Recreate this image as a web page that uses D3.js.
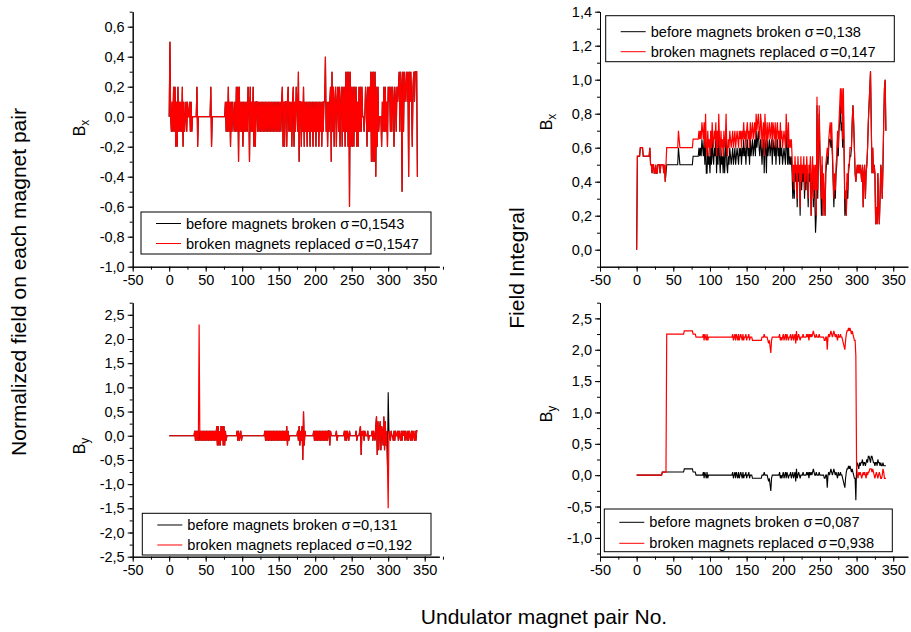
<!DOCTYPE html>
<html>
<head>
<meta charset="utf-8">
<script src="https://cdn.jsdelivr.net/npm/d3@7"></script>
<style>
body { margin: 0; background: #fff; }
svg { font-family: "Liberation Sans", Arial, sans-serif; }
</style>
</head>
<body>
<script>
// magnet pair number is the array index (0..340)

// normalized field Bx, before / after replacement
var bxFieldBefore = [
 0, 0.5, 0, -0.1, 0.1, -0.1, 0.2, -0.1, 0.2, -0.2, 0.1, -0.2, 0.2, -0.1, 0.1, -0.1, 0.1, -0.1, 0.2, -0.2,
 0.1, -0.1, 0, 0.1, -0.1, 0.1, 0, 0, 0.1, -0.1, 0.1, -0.1, 0, 0, 0, 0, 0, 0, 0.2, -0.2,
 0, 0, 0, 0, 0, 0, 0, 0, 0, 0, 0, 0, 0, 0, 0, 0, 0, 0.2, -0.2, 0,
 0, 0, 0, 0, 0, 0, 0, 0, 0, 0, 0, 0, 0, 0, 0, 0, 0, 0.1, -0.1, 0.1,
 -0.1, 0.2, -0.1, 0.1, -0.2, 0.1, -0.1, 0.1, 0, -0.1, 0.1, -0.1, 0.2, -0.1, 0.2, -0.3, 0.2, -0.1, 0.1, -0.1,
 0.1, -0.2, 0.1, -0.1, 0.1, -0.1, 0.1, -0.1, 0.2, 0.1, -0.3, 0.2, -0.1, 0.1, -0.1, 0.2, -0.2, 0.1, -0.2, 0.1,
 0.1, -0.1, 0.1, -0.1, 0.1, -0.1, 0.1, -0.1, 0.1, -0.1, 0.1, -0.1, 0.1, -0.1, 0.1, -0.1, 0.1, -0.1, 0.1, -0.1,
 0.1, -0.1, 0.1, -0.1, 0.1, -0.1, 0.1, -0.1, 0.1, -0.1, 0.1, -0.1, 0.1, -0.1, 0.1, 0.2, -0.2, 0.1, -0.2, 0.1,
 0.1, -0.2, 0.1, 0.2, -0.1, 0.1, -0.1, 0.1, -0.2, 0.1, 0.2, -0.2, 0.1, -0.1, 0.2, 0.1, -0.1, 0.3, -0.3, 0.1,
 0.1, -0.2, 0.1, -0.1, 0.2, -0.2, 0.1, -0.1, 0.1, -0.2, 0.1, -0.1, 0.1, -0.2, 0.1, -0.1, 0.1, -0.2, 0.1, -0.1,
 0.1, -0.2, 0.1, -0.1, 0.1, -0.2, 0.1, -0.1, 0.1, -0.2, 0.1, -0.1, 0.1, 0.1, 0.4, -0.1, 0.1, -0.2, 0.1, -0.1,
 0.1, 0.2, -0.3, 0.3, -0.1, 0.2, -0.2, 0.1, 0.2, -0.2, 0.1, 0.2, -0.1, 0.2, -0.2, 0.1, 0.2, -0.2, 0.2, -0.1,
 0.2, -0.2, 0.3, -0.1, 0.3, -0.2, 0.3, -0.6, 0.3, -0.2, 0.2, -0.2, 0.2, -0.2, 0.2, -0.1, 0.2, -0.2, 0.1, -0.2,
 0.2, -0.1, 0.2, -0.1, 0.2, 0, 0, -0.1, 0, 0.2, 0.1, -0.2, 0.2, -0.1, 0.2, -0.1, 0.3, -0.3, 0.3, -0.3,
 0.3, -0.3, 0.3, -0.4, 0.2, -0.2, 0.2, -0.1, 0, 0, 0, -0.2, 0.1, -0.1, 0.2, -0.1, 0.2, -0.1, 0.1, -0.2,
 0.2, 0.1, 0.2, -0.1, 0.2, -0.1, 0.2, 0.1, -0.2, 0.2, 0.1, -0.1, 0.2, 0.1, 0.2, 0.3, -0.1, 0.3, 0.2, -0.5,
 0.3, -0.1, 0.3, 0.1, 0.2, 0.3, 0.1, 0.3, -0.4, 0.3, 0.1, 0.3, 0.1, -0.2, 0.2, 0.3, 0.1, 0.3, 0.3, 0.3, -0.4
];
var bxFieldAfter = [
 0, 0.5, 0, -0.1, 0.1, -0.1, 0.2, -0.1, 0.2, -0.2, 0.1, -0.2, 0.2, -0.1, 0.1, -0.1, 0.1, -0.1, 0.2, -0.2,
 0.1, -0.1, 0, 0.1, -0.1, 0.1, 0, 0, 0.1, -0.1, 0.1, -0.1, 0, 0, 0, 0, 0, 0, 0.2, -0.2,
 0, 0, 0, 0, 0, 0, 0, 0, 0, 0, 0, 0, 0, 0, 0, 0, 0, 0.2, -0.2, 0,
 0, 0, 0, 0, 0, 0, 0, 0, 0, 0, 0, 0, 0, 0, 0, 0, 0, 0.1, -0.1, 0.1,
 -0.1, 0.2, -0.1, 0.1, -0.2, 0.1, -0.1, 0.1, 0, -0.1, 0.1, -0.1, 0.2, -0.1, 0.2, -0.3, 0.2, -0.1, 0.1, -0.1,
 0.1, -0.2, 0.1, -0.1, 0.1, -0.1, 0.1, -0.1, 0.2, 0.1, -0.3, 0.2, -0.1, 0.1, -0.1, 0.2, -0.2, 0.1, -0.2, 0.1,
 0.1, -0.1, 0.1, -0.1, 0.1, -0.1, 0.1, -0.1, 0.1, -0.1, 0.1, -0.1, 0.1, -0.1, 0.1, -0.1, 0.1, -0.1, 0.1, -0.1,
 0.1, -0.1, 0.1, -0.1, 0.1, -0.1, 0.1, -0.1, 0.1, -0.1, 0.1, -0.1, 0.1, -0.1, 0.1, 0.2, -0.2, 0.1, -0.2, 0.1,
 0.1, -0.2, 0.1, 0.2, -0.1, 0.1, -0.1, 0.1, -0.2, 0.1, 0.2, -0.2, 0.1, -0.1, 0.2, 0.1, -0.1, 0.3, -0.3, 0.1,
 0.1, -0.2, 0.1, -0.1, 0.2, -0.2, 0.1, -0.1, 0.1, -0.2, 0.1, -0.1, 0.1, -0.2, 0.1, -0.1, 0.1, -0.2, 0.1, -0.1,
 0.1, -0.2, 0.1, -0.1, 0.1, -0.2, 0.1, -0.1, 0.1, -0.2, 0.1, -0.1, 0.1, 0.1, 0.4, -0.1, 0.1, -0.2, 0.1, -0.1,
 0.1, 0.2, -0.3, 0.3, -0.1, 0.2, -0.2, 0.1, 0.2, -0.2, 0.1, 0.2, -0.1, 0.2, -0.2, 0.1, 0.2, -0.2, 0.2, -0.1,
 0.2, -0.2, 0.3, -0.1, 0.3, -0.2, 0.3, -0.6, 0.3, -0.2, 0.2, -0.2, 0.2, -0.2, 0.2, -0.1, 0.2, -0.2, 0.1, -0.2,
 0.2, -0.1, 0.2, -0.1, 0.2, 0, 0, -0.1, 0, 0.2, 0.1, -0.2, 0.2, -0.1, 0.2, -0.1, 0.3, -0.3, 0.3, -0.3,
 0.3, -0.3, 0.3, -0.4, 0.2, -0.2, 0.2, -0.1, 0, 0, 0, -0.2, 0.1, -0.1, 0.2, -0.1, 0.2, -0.1, 0.1, -0.2,
 0.2, 0.1, 0.2, -0.1, 0.2, -0.1, 0.2, 0.1, -0.2, 0.2, 0.1, -0.1, 0.2, 0.1, 0.2, 0.3, -0.1, 0.3, 0.2, -0.5,
 0.3, -0.1, 0.3, 0.1, 0.2, 0.3, 0.1, 0.3, -0.4, 0.3, 0.1, 0.3, 0.1, -0.2, 0.2, 0.3, 0.1, 0.3, 0.3, 0.3, -0.4
];

// normalized field By
var byFieldBefore = [
 0, 0, 0, 0, 0, 0, 0, 0, 0, 0, 0, 0, 0, 0, 0, 0, 0, 0, 0, 0,
 0, 0, 0, 0, 0, 0, 0, 0, 0, 0, 0, 0, 0, 0, 0, 0.1, -0.1, 0.1, -0.1, 0.1,
 -0.1, 0.1, -0.1, 0.1, -0.1, 0.1, -0.1, 0.1, -0.1, 0.1, -0.1, 0.1, -0.1, 0.1, -0.1, 0.1, -0.1, 0.1, -0.1, 0.1,
 -0.1, 0.1, -0.1, 0.1, -0.1, 0.2, -0.2, 0.2, -0.2, 0.1, -0.2, 0.2, -0.1, 0.2, -0.2, 0.2, -0.2, 0.1, -0.1, 0,
 0, 0, 0, 0, 0, 0, 0, 0, 0, 0, 0, 0, 0, 0.1, -0.1, 0.1, -0.1, 0, 0.1, -0.1,
 0, 0, 0, 0, 0, 0, 0, 0, 0, 0, 0, 0, 0, 0, 0, 0, 0, 0, 0, 0,
 0, 0, 0, 0, 0, 0, 0, 0, 0, 0, 0, 0.1, -0.1, 0.1, -0.1, 0.1, -0.1, 0.1, -0.1, 0.1,
 -0.1, 0.1, -0.1, 0.1, -0.1, 0.1, -0.1, 0.1, -0.1, 0.1, -0.1, 0.1, -0.1, 0.1, -0.1, 0.1, -0.1, 0.1, -0.1, 0.1,
 -0.1, 0.2, -0.2, 0.1, -0.1, 0, 0, 0, 0, 0, 0, 0, 0, 0, 0, 0, 0.1, -0.1, 0.2, -0.2,
 0.1, -0.1, 0.2, -0.5, 0.5, -0.2, 0.1, 0, 0, 0, 0, 0, 0, 0, 0, 0, 0, 0, 0.1, -0.1,
 0.1, -0.1, 0.1, -0.1, 0.1, -0.1, 0.1, -0.1, 0.1, -0.1, 0.1, -0.1, 0.1, -0.1, 0.1, -0.1, 0.1, -0.1, 0.1, 0.1,
 -0.2, 0.1, 0, 0, 0, 0, 0, 0, 0, 0.1, -0.1, 0, 0, 0, 0, 0, 0, 0, 0, 0,
 0.1, -0.1, 0.1, -0.1, 0.1, 0, -0.1, 0.1, 0, 0, 0, 0, 0, 0, 0, 0, 0.1, -0.1, 0, 0,
 0, 0.1, 0.2, -0.4, 0.1, 0, 0.1, -0.1, 0.1, 0, 0, 0, 0.1, -0.1, 0, 0, 0, 0, 0.1, -0.1,
 0.1, 0, -0.1, 0.2, 0.4, -0.4, 0.3, -0.3, 0.1, 0.3, -0.3, 0.2, 0.1, -0.2, 0.4, -0.3, 0.3, -0.2, 0.1, -0.6,
 0.9, 0.1, 0, -0.1, 0.1, 0, 0, -0.1, 0.1, -0.1, 0.1, 0, 0, 0.1, -0.1, 0.1, 0, -0.1, 0.1, -0.1,
 0.1, 0, 0.1, -0.1, 0.1, 0, -0.1, 0.1, -0.1, 0.1, 0, -0.1, 0.1, -0.1, 0.1, 0, -0.1, 0.1, -0.1, 0.1, 0.1
];
var byFieldAfter = [
 0, 0, 0, 0, 0, 0, 0, 0, 0, 0, 0, 0, 0, 0, 0, 0, 0, 0, 0, 0,
 0, 0, 0, 0, 0, 0, 0, 0, 0, 0, 0, 0, 0, 0, 0, 0.1, -0.1, 0.1, -0.1, 0.1,
 -0.1, 2.3, -0.1, 0.1, -0.1, 0.1, -0.1, 0.1, -0.1, 0.1, -0.1, 0.1, -0.1, 0.1, -0.1, 0.1, -0.1, 0.1, -0.1, 0.1,
 -0.1, 0.1, -0.1, 0.1, -0.1, 0.2, -0.2, 0.2, -0.2, 0.1, -0.2, 0.2, -0.1, 0.2, -0.2, 0.2, -0.2, 0.1, -0.1, 0,
 0, 0, 0, 0, 0, 0, 0, 0, 0, 0, 0, 0, 0, 0.1, -0.1, 0.1, -0.1, 0, 0.1, -0.1,
 0, 0, 0, 0, 0, 0, 0, 0, 0, 0, 0, 0, 0, 0, 0, 0, 0, 0, 0, 0,
 0, 0, 0, 0, 0, 0, 0, 0, 0, 0, 0, 0.1, -0.1, 0.1, -0.1, 0.1, -0.1, 0.1, -0.1, 0.1,
 -0.1, 0.1, -0.1, 0.1, -0.1, 0.1, -0.1, 0.1, -0.1, 0.1, -0.1, 0.1, -0.1, 0.1, -0.1, 0.1, -0.1, 0.1, -0.1, 0.1,
 -0.1, 0.2, -0.2, 0.1, -0.1, 0, 0, 0, 0, 0, 0, 0, 0, 0, 0, 0, 0.1, -0.1, 0.2, -0.2,
 0.1, -0.1, 0.2, -0.5, 0.5, -0.2, 0.1, 0, 0, 0, 0, 0, 0, 0, 0, 0, 0, 0, 0.1, -0.1,
 0.1, -0.1, 0.1, -0.1, 0.1, -0.1, 0.1, -0.1, 0.1, -0.1, 0.1, -0.1, 0.1, -0.1, 0.1, -0.1, 0.1, -0.1, 0.1, 0.1,
 -0.2, 0.1, 0, 0, 0, 0, 0, 0, 0, 0.1, -0.1, 0, 0, 0, 0, 0, 0, 0, 0, 0,
 0.1, -0.1, 0.1, -0.1, 0.1, 0, -0.1, 0.1, 0, 0, 0, 0, 0, 0, 0, 0, 0.1, -0.1, 0, 0,
 0, 0.1, 0.2, -0.4, 0.1, 0, 0.1, -0.1, 0.1, 0, 0, 0, 0.1, -0.1, 0, 0, 0, 0, 0.1, -0.1,
 0.1, 0, -0.1, 0.2, 0.4, -0.4, 0.3, -0.3, 0.1, 0.3, -0.3, 0.2, 0.1, -0.2, 0.4, -0.3, 0.3, -0.2, 0.1, -0.6,
 -1.5, 0.1, 0, -0.1, 0.1, 0, 0, -0.1, 0.1, -0.1, 0.1, 0, 0, 0.1, -0.1, 0.1, 0, -0.1, 0.1, -0.1,
 0.1, 0, 0.1, -0.1, 0.1, 0, -0.1, 0.1, -0.1, 0.1, 0, -0.1, 0.1, -0.1, 0.1, 0, -0.1, 0.1, -0.1, 0.1, 0.1
];

// field integral Bx
var bxIntBefore = [
 0, 0.55, 0.55, 0.55, 0.55, 0.6, 0.6, 0.6, 0.6, 0.55, 0.55, 0.55, 0.55, 0.55, 0.55, 0.55, 0.55, 0.55, 0.6, 0.5,
 0.5, 0.45, 0.5, 0.5, 0.45, 0.45, 0.5, 0.45, 0.45, 0.5, 0.5, 0.5, 0.45, 0.5, 0.5, 0.5, 0.5, 0.45, 0.5, 0.4,
 0.45, 0.5, 0.5, 0.5, 0.5, 0.5, 0.5, 0.5, 0.5, 0.5, 0.5, 0.5, 0.5, 0.5, 0.5, 0.5, 0.5, 0.6, 0.55, 0.5,
 0.5, 0.5, 0.5, 0.5, 0.5, 0.5, 0.5, 0.5, 0.5, 0.5, 0.5, 0.5, 0.5, 0.5, 0.5, 0.5, 0.5, 0.55, 0.55, 0.55,
 0.55, 0.55, 0.55, 0.55, 0.55, 0.6, 0.55, 0.6, 0.55, 0.65, 0.6, 0.55, 0.65, 0.5, 0.7, 0.45, 0.45, 0.6, 0.5, 0.55,
 0.45, 0.6, 0.5, 0.65, 0.55, 0.5, 0.6, 0.55, 0.65, 0.45, 0.6, 0.5, 0.7, 0.55, 0.45, 0.6, 0.5, 0.55, 0.45, 0.6,
 0.45, 0.55, 0.7, 0.5, 0.45, 0.55, 0.5, 0.6, 0.55, 0.5, 0.55, 0.6, 0.5, 0.55, 0.6, 0.5, 0.55, 0.6, 0.55, 0.5,
 0.6, 0.55, 0.6, 0.5, 0.6, 0.55, 0.65, 0.55, 0.6, 0.5, 0.6, 0.65, 0.55, 0.6, 0.5, 0.65, 0.55, 0.6, 0.65, 0.55,
 0.6, 0.65, 0.55, 0.7, 0.6, 0.65, 0.7, 0.6, 0.55, 0.65, 0.6, 0.5, 0.6, 0.65, 0.45, 0.65, 0.6, 0.45, 0.65, 0.55,
 0.6, 0.65, 0.55, 0.6, 0.65, 0.5, 0.65, 0.6, 0.55, 0.65, 0.5, 0.6, 0.65, 0.55, 0.6, 0.5, 0.65, 0.55, 0.6, 0.5,
 0.55, 0.6, 0.55, 0.5, 0.7, 0.6, 0.5, 0.65, 0.5, 0.55, 0.5, 0.55, 0.45, 0.3, 0.45, 0.3, 0.5, 0.4, 0.45, 0.25,
 0.5, 0.4, 0.45, 0.2, 0.5, 0.35, 0.45, 0.4, 0.5, 0.3, 0.45, 0.35, 0.5, 0.4, 0.25, 0.45, 0.4, 0.5, 0.2, 0.4,
 0.5, 0.25, 0.45, 0.3, 0.1, 0.2, 0.85, 0.3, 0.55, 0.8, 0.55, 0.4, 0.2, 0.5, 0.2, 0.4, 0.3, 0.2, 0.45, 0.5,
 0.55, 0.5, 0.6, 0.65, 0.65, 0.6, 0.65, 0.55, 0.4, 0.25, 0.4, 0.3, 0.45, 0.5, 0.65, 0.55, 0.7, 0.75, 0.85, 0.7,
 0.75, 0.6, 0.85, 0.55, 0.2, 0.3, 0.2, 0.4, 0.3, 0.45, 0.5, 0.55, 0.55, 0.6, 0.75, 0.85, 0.75, 0.6, 0.45, 0.4,
 0.45, 0.5, 0.45, 0.5, 0.45, 0.5, 0.45, 0.4, 0.5, 0.25, 0.45, 0.5, 0.3, 0.45, 0.5, 0.6, 0.75, 0.85, 0.95, 1.05,
 0.75, 0.45, 0.6, 0.45, 0.5, 0.45, 0.15, 0.25, 0.15, 0.45, 0.25, 0.15, 0.3, 0.5, 0.45, 0.3, 0.5, 0.75, 0.95, 1.0, 0.7
];
var bxIntAfter = [
 0, 0.55, 0.55, 0.55, 0.55, 0.6, 0.6, 0.6, 0.6, 0.55, 0.55, 0.55, 0.55, 0.55, 0.55, 0.55, 0.55, 0.55, 0.6, 0.5,
 0.5, 0.45, 0.5, 0.5, 0.45, 0.45, 0.5, 0.45, 0.45, 0.5, 0.5, 0.5, 0.45, 0.5, 0.5, 0.5, 0.5, 0.45, 0.5, 0.4,
 0.5, 0.6, 0.6, 0.6, 0.6, 0.6, 0.6, 0.6, 0.6, 0.6, 0.6, 0.6, 0.6, 0.6, 0.6, 0.6, 0.6, 0.7, 0.65, 0.6,
 0.6, 0.6, 0.6, 0.6, 0.6, 0.6, 0.6, 0.6, 0.6, 0.6, 0.6, 0.6, 0.6, 0.6, 0.6, 0.6, 0.6, 0.65, 0.65, 0.65,
 0.65, 0.65, 0.65, 0.65, 0.65, 0.7, 0.65, 0.7, 0.65, 0.75, 0.7, 0.65, 0.75, 0.6, 0.8, 0.6, 0.55, 0.7, 0.6, 0.65,
 0.55, 0.7, 0.6, 0.75, 0.65, 0.6, 0.7, 0.65, 0.75, 0.55, 0.7, 0.6, 0.8, 0.65, 0.55, 0.7, 0.6, 0.65, 0.55, 0.7,
 0.6, 0.65, 0.8, 0.6, 0.55, 0.65, 0.6, 0.7, 0.65, 0.6, 0.65, 0.7, 0.6, 0.65, 0.7, 0.6, 0.65, 0.7, 0.65, 0.6,
 0.7, 0.65, 0.7, 0.6, 0.7, 0.65, 0.75, 0.65, 0.7, 0.6, 0.7, 0.75, 0.65, 0.7, 0.6, 0.75, 0.65, 0.7, 0.75, 0.65,
 0.7, 0.75, 0.65, 0.8, 0.7, 0.75, 0.8, 0.7, 0.65, 0.8, 0.75, 0.6, 0.7, 0.75, 0.55, 0.8, 0.7, 0.6, 0.75, 0.65,
 0.7, 0.75, 0.65, 0.7, 0.75, 0.6, 0.75, 0.7, 0.65, 0.75, 0.6, 0.7, 0.75, 0.65, 0.7, 0.6, 0.75, 0.65, 0.7, 0.6,
 0.65, 0.7, 0.65, 0.6, 0.8, 0.7, 0.6, 0.75, 0.6, 0.65, 0.6, 0.65, 0.55, 0.4, 0.5, 0.35, 0.55, 0.45, 0.5, 0.3,
 0.55, 0.45, 0.5, 0.25, 0.55, 0.4, 0.5, 0.45, 0.55, 0.35, 0.5, 0.4, 0.55, 0.45, 0.3, 0.5, 0.45, 0.55, 0.2, 0.45,
 0.55, 0.3, 0.5, 0.35, 0.5, 0.2, 0.9, 0.35, 0.6, 0.85, 0.6, 0.45, 0.3, 0.55, 0.2, 0.45, 0.3, 0.2, 0.5, 0.55,
 0.6, 0.55, 0.65, 0.7, 0.75, 0.65, 0.75, 0.6, 0.45, 0.3, 0.45, 0.35, 0.5, 0.55, 0.7, 0.6, 0.75, 0.85, 0.95, 0.8,
 0.95, 0.65, 0.95, 0.6, 0.3, 0.35, 0.2, 0.45, 0.35, 0.5, 0.5, 0.6, 0.6, 0.6, 0.75, 0.85, 0.75, 0.6, 0.45, 0.4,
 0.45, 0.5, 0.45, 0.5, 0.45, 0.5, 0.45, 0.4, 0.5, 0.25, 0.45, 0.5, 0.3, 0.45, 0.5, 0.6, 0.75, 0.85, 0.95, 1.05,
 0.75, 0.45, 0.6, 0.45, 0.5, 0.45, 0.15, 0.25, 0.15, 0.45, 0.25, 0.15, 0.3, 0.5, 0.45, 0.3, 0.5, 0.75, 0.95, 1.0, 0.7
];

// field integral By
var byIntBefore = [
 0, 0, 0, 0, 0, 0, 0, 0, 0, 0, 0, 0, 0, 0, 0, 0, 0, 0, 0, 0,
 0, 0, 0, 0, 0, 0, 0, 0, 0, 0, 0, 0, 0, 0, 0, 0.05, 0.05, 0.05, 0.05, 0.05,
 0.05, 0.05, 0.05, 0.05, 0.05, 0.05, 0.05, 0.05, 0.05, 0.05, 0.05, 0.05, 0.05, 0.05, 0.05, 0.05, 0.05, 0.05, 0.05, 0.05,
 0.05, 0.05, 0.05, 0.05, 0.05, 0.1, 0.1, 0.1, 0.1, 0.1, 0.1, 0.1, 0.1, 0.1, 0.1, 0.1, 0.1, 0.05, 0.05, 0.05,
 0.05, 0, 0, 0, 0, 0, 0, 0, 0, 0, 0, 0.05, -0.05, 0.05, 0, -0.05, 0.05, -0.05, 0, 0,
 0, 0, 0, 0, 0, 0, 0, 0, 0, 0, 0, 0, 0, 0, 0, 0, 0, 0, 0, 0,
 0, 0, 0, 0, 0, 0, 0, 0, 0, 0, 0, 0.05, -0.05, 0, 0.05, -0.05, 0.05, 0, -0.05, 0.05,
 -0.05, 0, 0.05, 0, -0.05, 0.05, -0.05, 0, 0, 0.05, -0.05, 0, 0, 0.05, -0.05, 0, 0, 0, -0.05, -0.05,
 -0.05, -0.05, -0.05, -0.05, -0.05, -0.05, -0.05, -0.05, -0.05, -0.05, -0.05, 0, 0, 0, 0.05, 0, 0, 0, 0, -0.05,
 -0.1, -0.05, -0.15, -0.25, -0.05, 0, 0, 0, 0, 0, 0, 0, 0, 0, 0, 0.05, -0.05, 0, -0.05, 0,
 0.05, -0.05, 0, 0.05, -0.05, 0.05, 0, -0.05, 0, 0, 0.05, -0.05, 0, 0.05, -0.05, 0, 0.05, -0.1, 0.1, -0.05,
 0, 0.05, 0, -0.05, 0, 0, 0, 0.05, 0, 0, 0, 0, 0.05, 0, 0.05, -0.05, 0.05, 0, 0.05, 0,
 0.05, 0.1, 0.05, 0, 0, 0.05, 0, 0, 0, 0.05, 0, 0, 0, 0, 0, 0, -0.05, -0.05, 0, 0,
 -0.2, 0, 0.05, 0, 0.05, 0.1, 0.05, 0, 0.05, 0.1, 0.05, 0, 0.05, 0, -0.05, 0.05, 0, 0, 0.05, 0,
 0, -0.05, -0.1, -0.15, -0.2, -0.05, 0.05, 0.1, 0.1, 0.15, 0.1, 0.15, 0.1, 0.05, 0.1, 0.05, 0, -0.05, -0.05, -0.4,
 0.15, 0.2, 0.15, 0.1, 0.2, 0.15, 0.2, 0.2, 0.25, 0.15, 0.2, 0.2, 0.15, 0.2, 0.25, 0.2, 0.3, 0.3, 0.25, 0.2,
 0.3, 0.3, 0.25, 0.2, 0.2, 0.15, 0.2, 0.2, 0.15, 0.25, 0.2, 0.2, 0.15, 0.2, 0.15, 0.15, 0.2, 0.15, 0.15, 0.15, 0.15
];
var byIntAfter = [
 0, 0, 0, 0, 0, 0, 0, 0, 0, 0, 0, 0, 0, 0, 0, 0, 0, 0, 0, 0,
 0, 0, 0, 0, 0, 0, 0, 0, 0, 0, 0, 0, 0, 0, 0, 0.05, 0.05, 0.05, 0.05, 0.05,
 0.05, 2.25, 2.25, 2.25, 2.25, 2.25, 2.25, 2.25, 2.25, 2.25, 2.25, 2.25, 2.25, 2.25, 2.25, 2.25, 2.25, 2.25, 2.25, 2.25,
 2.25, 2.25, 2.25, 2.25, 2.25, 2.3, 2.3, 2.3, 2.3, 2.3, 2.3, 2.3, 2.3, 2.3, 2.3, 2.3, 2.3, 2.25, 2.25, 2.25,
 2.25, 2.2, 2.2, 2.2, 2.2, 2.2, 2.2, 2.2, 2.2, 2.2, 2.2, 2.25, 2.15, 2.25, 2.2, 2.15, 2.25, 2.15, 2.2, 2.2,
 2.2, 2.2, 2.2, 2.2, 2.2, 2.2, 2.2, 2.2, 2.2, 2.2, 2.2, 2.2, 2.2, 2.2, 2.2, 2.2, 2.2, 2.2, 2.2, 2.2,
 2.2, 2.2, 2.2, 2.2, 2.2, 2.2, 2.2, 2.2, 2.2, 2.2, 2.2, 2.25, 2.15, 2.2, 2.25, 2.15, 2.25, 2.2, 2.15, 2.25,
 2.15, 2.2, 2.25, 2.2, 2.15, 2.25, 2.15, 2.2, 2.2, 2.25, 2.15, 2.2, 2.2, 2.25, 2.15, 2.2, 2.2, 2.2, 2.15, 2.15,
 2.15, 2.15, 2.15, 2.15, 2.15, 2.15, 2.15, 2.15, 2.15, 2.15, 2.15, 2.2, 2.2, 2.2, 2.25, 2.2, 2.2, 2.2, 2.2, 2.15,
 2.1, 2.15, 2.05, 1.95, 2.15, 2.2, 2.2, 2.2, 2.2, 2.2, 2.2, 2.2, 2.2, 2.2, 2.2, 2.25, 2.15, 2.2, 2.15, 2.2,
 2.25, 2.15, 2.2, 2.25, 2.15, 2.25, 2.2, 2.15, 2.2, 2.2, 2.25, 2.15, 2.2, 2.25, 2.15, 2.2, 2.25, 2.1, 2.3, 2.15,
 2.2, 2.25, 2.2, 2.15, 2.2, 2.2, 2.2, 2.25, 2.2, 2.2, 2.2, 2.2, 2.25, 2.2, 2.25, 2.15, 2.25, 2.2, 2.25, 2.2,
 2.25, 2.3, 2.25, 2.2, 2.2, 2.25, 2.2, 2.2, 2.2, 2.25, 2.2, 2.2, 2.2, 2.2, 2.2, 2.2, 2.15, 2.15, 2.2, 2.2,
 2.0, 2.2, 2.25, 2.2, 2.25, 2.3, 2.25, 2.2, 2.25, 2.3, 2.25, 2.2, 2.25, 2.2, 2.15, 2.25, 2.2, 2.2, 2.25, 2.2,
 2.2, 2.15, 2.1, 2.05, 2.0, 2.15, 2.25, 2.3, 2.3, 2.35, 2.3, 2.35, 2.3, 2.25, 2.3, 2.25, 2.2, 2.15, 2.15, 1.9,
 0.15, 0, -0.05, 0.05, 0, 0.05, 0, -0.05, 0, 0.05, 0, 0.05, 0, -0.05, 0.05, 0, 0.05, 0.05, 0.1, 0.1,
 0.1, 0.05, 0.1, 0.05, 0, -0.05, 0, 0.05, 0, -0.05, 0, 0.05, 0, -0.05, -0.05, 0, 0.1, 0.05, -0.05, -0.05, -0.05
];

var legendBx = ["before magnets broken σ=0,1543", "broken magnets replaced σ=0,1547"];
var legendBy = ["before magnets broken σ=0,131", "broken magnets replaced σ=0,192"];
var legendBxInt = ["before magnets broken σ=0,138", "broken magnets replaced σ=0,147"];
var legendByInt = ["before magnets broken σ=0,087", "broken magnets replaced σ=0,938"];

var locale = d3.formatLocale({decimal: ",", thousands: ".", grouping: [3], currency: ["", ""], minus: "-"});
var fmt1 = locale.format(".1f");
var fmt0 = locale.format("d");

function steps(a, b, s) {
  return d3.range(a, b + s / 2, s).map(function(v) { return Math.round(v * 100) / 100; });
}

var svg = d3.select("body").append("svg")
  .attr("width", 911)
  .attr("height", 632);

function styleAxis(g) {
  g.attr("font-size", null).attr("font-family", null);
  g.selectAll("text").style("font-size", "14.5px").attr("fill", "#000");
  g.selectAll("line").attr("stroke", "#000");
  g.select(".domain").attr("stroke", "#000");
}

function drawPanel(p) {
  var x = d3.scaleLinear().domain([-50, 370]).range([p.left, p.right]);
  var y = d3.scaleLinear().domain(p.yDomain).range([p.bottom, p.top]);
  var g = svg.append("g");

  // minor ticks first, majors on top
  g.append("g").attr("transform", "translate(0," + p.bottom + ")")
    .call(d3.axisBottom(x).tickValues(steps(-50, 370, 25)).tickSize(3).tickSizeOuter(0).tickFormat(""))
    .call(styleAxis);
  g.append("g").attr("transform", "translate(" + p.left + ",0)")
    .call(d3.axisLeft(y).tickValues(p.yMinor).tickSize(3).tickSizeOuter(0).tickFormat(""))
    .call(styleAxis);
  g.append("g").attr("transform", "translate(0," + p.bottom + ")")
    .call(d3.axisBottom(x).tickValues(steps(-50, 350, 50)).tickSize(5).tickPadding(3).tickSizeOuter(0).tickFormat(fmt0))
    .call(styleAxis);
  g.append("g").attr("transform", "translate(" + p.left + ",0)")
    .call(d3.axisLeft(y).tickValues(p.yMajor).tickSize(5).tickPadding(3).tickSizeOuter(0).tickFormat(fmt1))
    .call(styleAxis);

  var line = d3.line().x(function(d, i) { return x(i); }).y(function(d) { return y(d); });
  g.append("path").datum(p.before).attr("d", line)
    .attr("fill", "none").attr("stroke", "#000").attr("stroke-width", 1.1);
  g.append("path").datum(p.after).attr("d", line)
    .attr("fill", "none").attr("stroke", "#ff0000").attr("stroke-width", 1.2);

  // axis title B with subscript
  var t = g.append("text")
    .attr("transform", "translate(" + p.titleX + "," + p.titleY + ") rotate(-90)")
    .attr("text-anchor", "middle")
    .style("font-size", "16px");
  t.append("tspan").text("B");
  t.append("tspan").attr("dy", 4).style("font-size", "12px").text(p.sub);

  // legend
  var lg = g.append("g").attr("transform", "translate(" + p.legend[0] + "," + p.legend[1] + ")");
  lg.append("rect").attr("width", p.legend[2]).attr("height", p.legend[3])
    .attr("fill", "#fff").attr("stroke", "#000").attr("stroke-width", 1);
  p.labels.forEach(function(lbl, i) {
    var ry = p.legendRows[i];
    lg.append("line").attr("x1", 15).attr("x2", 40).attr("y1", ry).attr("y2", ry)
      .attr("stroke", i === 0 ? "#000" : "#ff0000").attr("stroke-width", 1);
    var parts = lbl.split("σ");
    var tx = lg.append("text").attr("x", 45).attr("y", ry).attr("dy", "0.35em")
      .style("font-size", "14.6px").attr("fill", "#000");
    tx.append("tspan").text(parts[0]);
    tx.append("tspan").text("σ");
    tx.append("tspan").attr("dx", 2).text(parts[1]);
  });
}

var panels = [
  {left: 132.7, right: 439.3, top: 11.7, bottom: 266.7, yDomain: [-1, 0.7],
   yMajor: steps(-1, 0.6, 0.2), yMinor: steps(-1, 0.7, 0.1),
   before: bxFieldBefore, after: bxFieldAfter, sub: "x", titleX: 85, titleY: 128,
   legend: [141, 212, 290, 42], legendRows: [11.5, 31.5], labels: legendBx},
  {left: 132.7, right: 439.3, top: 302.7, bottom: 556.7, yDomain: [-2.5, 2.75],
   yMajor: steps(-2.5, 2.5, 0.5), yMinor: steps(-2.5, 2.75, 0.25),
   before: byFieldBefore, after: byFieldAfter, sub: "y", titleX: 85, titleY: 446,
   legend: [142.3, 513.3, 288.7, 41.7], legendRows: [11.7, 31.7], labels: legendBy},
  {left: 600, right: 907.9, top: 11.7, bottom: 266.7, yDomain: [-0.1, 1.4],
   yMajor: steps(0, 1.4, 0.2), yMinor: steps(-0.1, 1.4, 0.1),
   before: bxIntBefore, after: bxIntAfter, sub: "x", titleX: 552, titleY: 122,
   legend: [605.7, 15.7, 288.6, 46], legendRows: [16, 36], labels: legendBxInt},
  {left: 600, right: 907.9, top: 302.7, bottom: 556.7, yDomain: [-1.3, 2.75],
   yMajor: steps(-1, 2.5, 0.5), yMinor: steps(-1.25, 2.75, 0.25),
   before: byIntBefore, after: byIntAfter, sub: "y", titleX: 552, titleY: 414,
   legend: [604.3, 509, 288, 42.7], legendRows: [13.3, 34.3], labels: legendByInt}
];

panels.forEach(drawPanel);

// shared titles
svg.append("text")
  .attr("transform", "translate(26,282) rotate(-90)")
  .attr("text-anchor", "middle").style("font-size", "21px")
  .text("Normalized field on each magnet pair");
svg.append("text")
  .attr("transform", "translate(524,268) rotate(-90)")
  .attr("text-anchor", "middle").style("font-size", "21px")
  .text("Field Integral");
svg.append("text")
  .attr("x", 544).attr("y", 624)
  .attr("text-anchor", "middle").style("font-size", "21px")
  .text("Undulator magnet pair No.");
</script>
</body>
</html>
